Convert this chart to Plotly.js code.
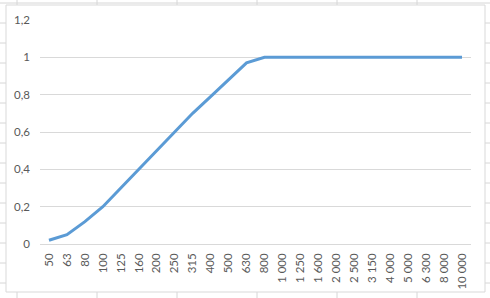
<!DOCTYPE html>
<html>
<head>
<meta charset="utf-8">
<script src="https://cdn.plot.ly/plotly-3.0.1.min.js"></script>
<style>html,body{margin:0;padding:0;background:#fff;}#chart{width:490px;height:298px;}</style>
</head>
<body>
<div id="chart"></div>
<script>
var categories = ["50","63","80","100","125","160","200","250","315","400","500","630","800","1 000","1 250","1 600","2 000","2 500","3 150","4 000","5 000","6 300","8 000","10 000"];
var values = [0.02,0.05,0.12,0.2,0.3,0.4,0.5,0.6,0.7,0.79,0.88,0.97,1,1,1,1,1,1,1,1,1,1,1,1];

var W = 490, H = 298;
var M = {l: 40, r: 19, t: 20, b: 54};
var pw = W - M.l - M.r, ph = H - M.t - M.b;
function px(x){ return (x - M.l) / pw; }
function py(y){ return (H - M.b - y) / ph; }

var shapes = [];
var cellColor = '#d6d6d6';
// spreadsheet cell lines
[17, 97, 177, 257, 337, 417].forEach(function(x){
  shapes.push({type:'line', layer:'below', xref:'paper', yref:'paper', x0:px(x), x1:px(x), y0:py(0), y1:py(H), line:{color:cellColor, width:1}});
});
for (var y = 3; y < H; y += 20) {
  shapes.push({type:'line', layer:'below', xref:'paper', yref:'paper', x0:px(0), x1:px(W), y0:py(y), y1:py(y), line:{color:cellColor, width:1}});
}
// chart frame
shapes.push({type:'rect', layer:'below', xref:'paper', yref:'paper', x0:px(6), x1:px(485), y0:py(292), y1:py(5), fillcolor:'#ffffff', line:{color:'#d9d9d9', width:1}});

var trace = {
  x: categories,
  y: values,
  type: 'scatter',
  mode: 'lines',
  line: {color: '#5b9bd5', width: 3},
  hoverinfo: 'none'
};

var font = {family: 'Lato, "Open Sans", sans-serif', size: 11.5, color: '#595959'};

var layout = {
  width: W, height: H,
  margin: M,
  paper_bgcolor: '#ffffff',
  plot_bgcolor: 'rgba(0,0,0,0)',
  separators: ', ',
  showlegend: false,
  font: font,
  shapes: shapes,
  xaxis: {
    type: 'category',
    range: [-0.5, categories.length - 0.5],
    tickangle: -90,
    showgrid: false,
    zeroline: false,
    showline: false,
    ticks: '',
    ticklabelstandoff: 6,
    tickfont: font,
    fixedrange: true
  },
  yaxis: {
    range: [0, 1.2],
    dtick: 0.2,
    tick0: 0,
    showgrid: true,
    gridcolor: '#d9d9d9',
    gridwidth: 1,
    zeroline: true,
    zerolinecolor: '#d9d9d9',
    zerolinewidth: 1,
    showline: false,
    ticks: '',
    ticklabelstandoff: 9,
    tickfont: font,
    fixedrange: true
  }
};

Plotly.newPlot('chart', [trace], layout, {displayModeBar: false, staticPlot: true});
</script>
</body>
</html>
